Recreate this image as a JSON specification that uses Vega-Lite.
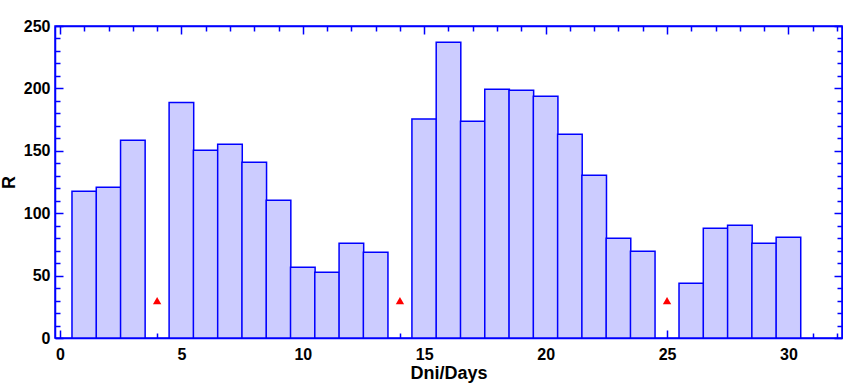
{
  "$schema": "https://vega.github.io/schema/vega-lite/v6.json",
  "width": 787,
  "height": 312,
  "autosize": {"type": "none"},
  "padding": {"left": 55, "top": 26, "right": 1, "bottom": 45},
  "config": {
    "view": {"stroke": "#0000FF", "strokeWidth": 1.5},
    "axis": {
      "grid": false,
      "domainColor": "#0000FF",
      "domainWidth": 1.5,
      "tickColor": "#0000FF",
      "tickWidth": 1.5,
      "labelFont": "Liberation Sans",
      "labelFontWeight": "bold",
      "labelFontSize": 16,
      "labelColor": "#000000",
      "titleFont": "Liberation Sans",
      "titleFontWeight": "bold",
      "titleFontSize": 18,
      "titleColor": "#000000"
    }
  },
  "datasets": {
    "bars": [
      {"day": 1, "R": 117.5}, {"day": 2, "R": 120.7}, {"day": 3, "R": 158.4},
      {"day": 5, "R": 188.8}, {"day": 6, "R": 150.4}, {"day": 7, "R": 155.2},
      {"day": 8, "R": 140.8}, {"day": 9, "R": 110.3}, {"day": 10, "R": 56.6},
      {"day": 11, "R": 52.6}, {"day": 12, "R": 75.9}, {"day": 13, "R": 68.7},
      {"day": 15, "R": 175.5}, {"day": 16, "R": 236.9}, {"day": 17, "R": 173.6},
      {"day": 18, "R": 199.3}, {"day": 19, "R": 198.5}, {"day": 20, "R": 193.7},
      {"day": 21, "R": 163.2}, {"day": 22, "R": 130.4}, {"day": 23, "R": 79.9},
      {"day": 24, "R": 69.5}, {"day": 26, "R": 43.8}, {"day": 27, "R": 87.9},
      {"day": 28, "R": 90.3}, {"day": 29, "R": 75.9}, {"day": 30, "R": 80.7}
    ],
    "missing": [
      {"day": 4, "R": 30}, {"day": 14, "R": 30}, {"day": 25, "R": 30}
    ]
  },
  "layer": [
    {
      "data": {"name": "bars"},
      "mark": {"type": "bar", "fill": "#CCCCFF", "stroke": "#0000FF", "strokeWidth": 1.5, "width": 24.6},
      "encoding": {
        "x": {
          "field": "day", "type": "quantitative",
          "scale": {"domain": [0, 32], "nice": false, "zero": false},
          "axis": {
            "orient": "bottom",
            "title": "Dni/Days",
            "values": [0,1,2,3,4,5,6,7,8,9,10,11,12,13,14,15,16,17,18,19,20,21,22,23,24,25,26,27,28,29,30,31,32],
            "tickSize": {"condition": {"test": "datum.value % 5 === 0", "value": -8}, "value": -5},
            "labelExpr": "datum.value % 5 === 0 ? datum.label : ''",
            "labelPadding": 16,
            "labelFlush": false,
            "labelOverlap": false,
            "titlePadding": -1
          }
        },
        "y": {
          "field": "R", "type": "quantitative",
          "scale": {"domain": [0, 250], "nice": false},
          "axis": {
            "orient": "left",
            "title": "R",
            "values": [0,10,20,30,40,50,60,70,80,90,100,110,120,130,140,150,160,170,180,190,200,210,220,230,240,250],
            "tickSize": {"condition": {"test": "datum.value % 50 === 0", "value": -8}, "value": -5},
            "labelExpr": "datum.value % 50 === 0 ? datum.label : ''",
            "labelPadding": 13,
            "labelFlush": false,
            "labelOverlap": false,
            "titlePadding": 5
          }
        }
      }
    },
    {
      "data": {"name": "missing"},
      "mark": {"type": "point", "shape": "triangle-up", "filled": true, "color": "#FF0000", "opacity": 1, "size": 70},
      "encoding": {
        "x": {
          "field": "day", "type": "quantitative",
          "scale": {"domain": [0, 32], "nice": false, "zero": false},
          "axis": {
            "orient": "top",
            "title": null,
            "values": [0,1,2,3,4,5,6,7,8,9,10,11,12,13,14,15,16,17,18,19,20,21,22,23,24,25,26,27,28,29,30,31,32],
            "tickSize": {"condition": {"test": "datum.value % 5 === 0", "value": -8}, "value": -5},
            "labels": false
          }
        },
        "y": {
          "field": "R", "type": "quantitative",
          "scale": {"domain": [0, 250], "nice": false},
          "axis": {
            "orient": "right",
            "title": null,
            "values": [0,10,20,30,40,50,60,70,80,90,100,110,120,130,140,150,160,170,180,190,200,210,220,230,240,250],
            "tickSize": {"condition": {"test": "datum.value % 50 === 0", "value": -8}, "value": -5},
            "labels": false
          }
        }
      }
    }
  ],
  "resolve": {"axis": {"x": "independent", "y": "independent"}}
}
